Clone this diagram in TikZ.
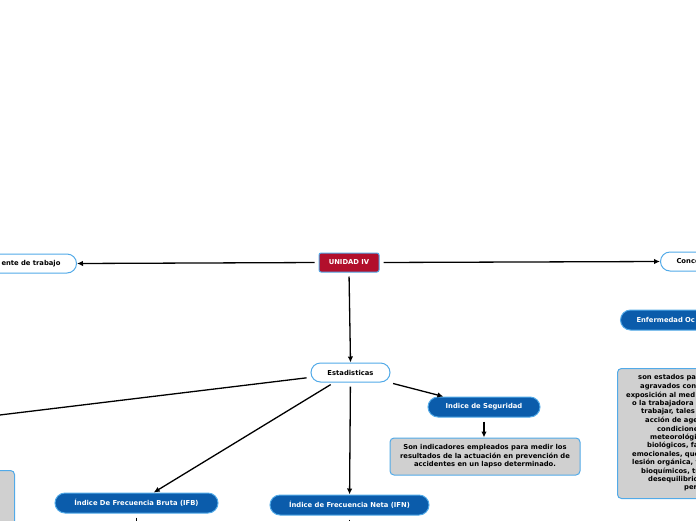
\documentclass[tikz,border=0pt]{standalone}
\usepackage{fontspec}
\setmainfont{DejaVu Sans}
\usetikzlibrary{arrows.meta}
\definecolor{bluefill}{HTML}{0B5CAB}
\definecolor{blueedge}{HTML}{52AAE8}
\definecolor{redfill}{HTML}{B20F2C}
\definecolor{greyfill}{HTML}{D0D0D0}
\begin{document}
\begin{tikzpicture}[x=1pt,y=-1pt,
  txt/.style={font=\bfseries\fontsize{6.8}{8.5}\selectfont},
  bluepill/.style={txt, fill=bluefill, draw=blueedge, line width=1pt, text=white, rounded corners=10pt, minimum height=20pt},
  whitepill/.style={txt, fill=white, draw=blueedge, line width=1pt, rounded corners=9.5pt, minimum height=19pt},
  redbox/.style={txt, fill=redfill, draw=blueedge, line width=1pt, text=white, rounded corners=2pt},
  greybox/.style={txt, fill=greyfill, draw=blueedge, line width=1pt, rounded corners=4pt},
  frag/.style={txt, anchor=west, inner sep=0pt},
  conn/.style={line width=1.3pt, shorten <=4pt},
  arr/.style={conn, -{Latex[length=6pt,width=5.5pt]}}]
\useasboundingbox[fill=white] (0,0) rectangle (696,520);

\node[redbox, minimum width=60pt, minimum height=19pt] (u) at (349,262.5) {UNIDAD IV};
\node[whitepill, anchor=east, text width=90pt, align=right, inner xsep=16pt] (acc) at (77,263.5) {ente de trabajo};
\node[whitepill, anchor=west, text width=60pt, align=left, inner xsep=16pt] (con) at (660,261.5) {Conce};
\node[whitepill, minimum width=79pt] (est) at (350.5,372.5) {Estadisticas};
\node[bluepill, minimum width=112pt] (seg) at (484,407) {Indice de Seguridad};
\node[greybox, minimum width=190pt, minimum height=37pt, align=center] (segd) at (485,456.5)
  {Son indicadores empleados para medir los\\resultados de la actuación en prevención de\\accidentes en un lapso determinado.};
\node[bluepill, minimum width=163pt] (ifb) at (136.5,503) {Índice De Frecuencia Bruta (IFB)};
\node[bluepill, minimum width=159pt] (ifn) at (349.5,505) {Índice de Frecuencia Neta (IFN)};
\node[bluepill, anchor=west, text width=80pt, align=left, inner xsep=16pt] (enf) at (620,320) {Enfermedad Oc};
\node[greybox, anchor=north west, minimum width=110pt, minimum height=130pt] (enfd) at (617,368) {};
\node[greybox, anchor=north east, minimum width=40pt, minimum height=70pt] (lbox) at (15,470) {};

\foreach \i/\x/\y/\t in {1/638/378/{son estados pa}, 2/640/386.5/{agravados con},
  3/626/395/{exposición al med}, 4/632/403.5/{o la trabajadora}, 5/641/412/{trabajar, tales c},
  6/645/420.5/{acción de agent}, 7/657/429/{condicione}, 8/650/437.5/{meteorológica},
  9/647/446/{biológicos, fac}, 10/632/454.5/{emocionales, que}, 11/632/463/{lesión orgánica, f},
  12/641/471.5/{bioquímicos, tr}, 13/648/480/{desequilibrio}, 14/684/488.5/{per}}
  \node[frag] (r\i) at (\x,\y) {\t};

\coordinate (offL) at (-30,418.6);
\coordinate (ifbOff) at (136.5,545);
\coordinate (ifnOff) at (349.5,545);

\draw[arr] (u.west) -- (acc.east);
\draw[arr] (u.east) -- (con.west);
\draw[arr] (u.south) -- (est.north);
\draw[arr] (est) -- (seg);
\draw[arr] (est) -- (ifb);
\draw[arr] (est) -- (ifn);
\draw[conn] (est) -- (offL);
\draw[arr] (seg.south) -- (seg.south |- segd.north);
\draw[conn] (ifb.south) -- (ifbOff);
\draw[conn] (ifn.south) -- (ifnOff);
\end{tikzpicture}
\end{document}
